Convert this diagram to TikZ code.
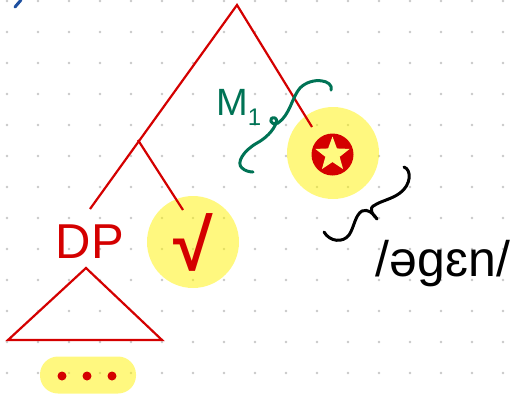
\documentclass[tikz,border=0pt]{standalone}
\usepackage{fontspec}
\setmainfont{Liberation Sans}
\usetikzlibrary{shapes.geometric}
\definecolor{treeRed}{RGB}{212, 0, 0}
\definecolor{hlYellow}{RGB}{255, 250, 128}
\definecolor{gridGray}{RGB}{200, 200, 200}
\definecolor{inkGreen}{RGB}{0, 115, 85}
\definecolor{inkBlue}{RGB}{30, 80, 160}

\begin{document}
\begin{tikzpicture}[x=1pt, y=-1pt,
          blob/.style={circle, fill=yellow, fill opacity=0.5, text opacity=1,
                       minimum size=92pt, inner sep=0pt},
          pill/.style={rounded corners=18pt, fill=yellow, fill opacity=0.5,
                       minimum width=96pt, minimum height=37pt},
          branch/.style={treeRed, line width=2.2pt},
          lbl/.style={text=treeRed, inner sep=0pt, font=\fontsize{49}{49}\selectfont},
          ink/.style={line width=3pt, line cap=round, line join=round}
        ]
        \useasboundingbox (0,0) rectangle (521,397);
        % dotted paper
        \foreach \i in {0,...,16}
          \foreach \j in {0,...,12}
            \fill[gridGray] (7+31*\i, 1+31*\j) circle (1.4pt);
        \draw[inkBlue, ink] (15,7) -- (21,0);

        \node[blob] (affix) at (333,153) {};
        \node[circle, fill=treeRed, minimum size=42pt, inner sep=0pt] (mark) at (332.5,154.5) {};
        \node[star, star points=5, star point ratio=2.4, fill=hlYellow,
              minimum size=36pt, inner sep=0pt] (star) at (mark) {};
        \node[blob, lbl, font=\fontsize{72}{72}\bfseries] (root) at (193,242) {√};
        \node[lbl, anchor=base] (dp) at (90,258) {DP};

        \coordinate (top)       at (237,5);
        \coordinate (mid)       at (138,140);
        \coordinate (dp-tip)    at (90,209);
        \coordinate (root-tip)  at (183,210);
        \coordinate (affix-tip) at (312,127);
        \draw[branch] (dp-tip) -- (top) -- (affix-tip);
        \draw[branch] (mid) -- (root-tip);
        \draw[branch] (86,268) -- (8,340) -- (162,340) -- cycle;

        \node[pill] (dots) at (88,375) {};
        \foreach \x in {62,87,112}
          \fill[treeRed] (\x,376) circle (4.5pt);

        % handwritten marks
        \node[text=inkGreen, inner sep=0pt, anchor=base west,
              font=\fontsize{38}{38}\selectfont] (m1) at (216,115)
              {M\raisebox{-10pt}{\fontsize{24}{24}\selectfont 1}};
        \draw[ink, inkGreen] (331,90) .. controls (334,80) and (312,76) .. (300,88)
              .. controls (292,97) and (290,115) .. (278,123)
              .. controls (270,127) and (268,116) .. (275,118)
              .. controls (280,120) and (272,135) .. (257,143)
              .. controls (243,151) and (236,163) .. (242,168)
              .. controls (245,171) and (250,172) .. (253,172);
        \draw[ink] (404,167) .. controls (412,170) and (411,185) .. (400,193)
              .. controls (392,199) and (381,201) .. (375,205)
              .. controls (368,208) and (372,214) .. (377,219)
              .. controls (372,212) and (368,209) .. (362,211)
              .. controls (355,215) and (354,228) .. (349,235)
              .. controls (343,243) and (330,242) .. (324,232);
        \node[inner sep=0pt, anchor=base, font=\fontsize{50}{50}\selectfont]
              (ipa) at (443,276) {/əɡɛn/};
      \end{tikzpicture}
\end{document}
